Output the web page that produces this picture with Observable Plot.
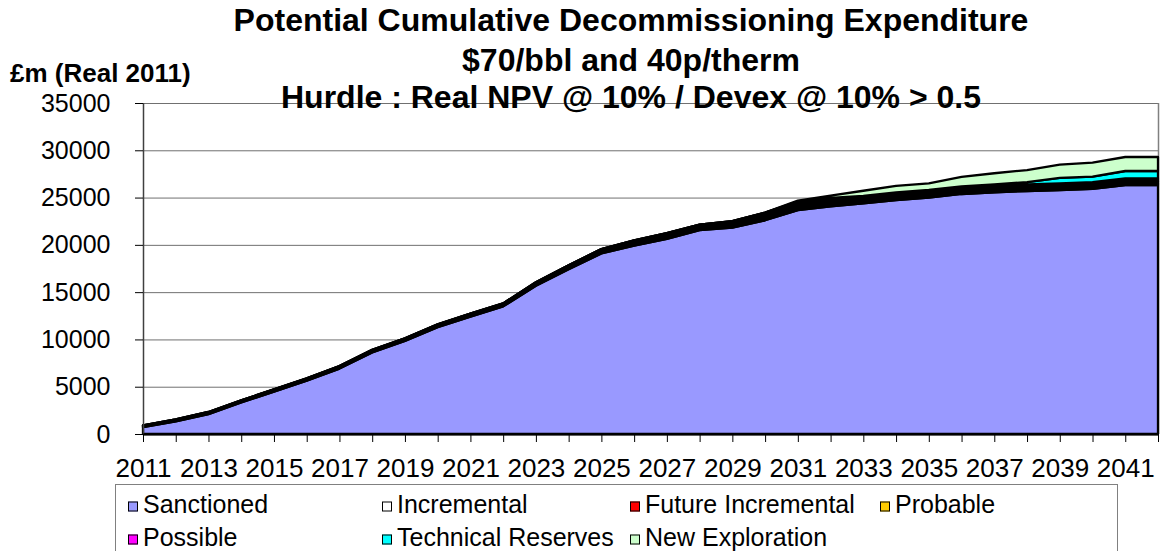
<!DOCTYPE html>
<html>
<head>
<meta charset="utf-8">
<script src="https://cdn.jsdelivr.net/npm/d3@7"></script>
<script src="https://cdn.jsdelivr.net/npm/@observablehq/plot@0.6"></script>
<style>
  html, body { margin: 0; padding: 0; background: #fff; }
  #wrap { position: relative; width: 1163px; height: 551px; overflow: hidden; font-family: "Liberation Sans", Arial, sans-serif; color: #000; }
  #chart { position: absolute; left: 0; top: 0; }
  .t { position: absolute; white-space: nowrap; font-weight: bold; line-height: 1; }
  .title { font-size: 32px; transform: translate(-50%, -50%); left: 631px; }
  #unit { font-size: 26px; left: 10px; top: 73px; transform: translateY(-50%); }
  #legend { position: absolute; left: 115px; top: 484px; width: 1003px; height: 100px; border: 1px solid #808080; box-sizing: border-box; }
  .li { position: absolute; font-size: 25px; line-height: 1; white-space: nowrap; transform: translateY(-50%); }
  .sw { display: inline-block; width: 8px; height: 8px; border: 1.5px solid #000; margin-right: 5px; vertical-align: 1px; }
</style>
</head>
<body>
<div id="wrap">
  <div id="chart"></div>
  <div class="t title" style="top:20px">Potential Cumulative Decommissioning Expenditure</div>
  <div class="t title" style="top:60px">$70/bbl and 40p/therm</div>
  <div class="t title" style="top:97px">Hurdle : Real NPV @ 10% / Devex @ 10% &gt; 0.5</div>
  <div class="t" id="unit">£m (Real 2011)</div>
  <div id="legend"></div>
</div>
<script>
const years = [2011,2012,2013,2014,2015,2016,2017,2018,2019,2020,2021,2022,2023,2024,2025,2026,2027,2028,2029,2030,2031,2032,2033,2034,2035,2036,2037,2038,2039,2040,2041,2042];
const xLabelYears = [2011,2013,2015,2017,2019,2021,2023,2025,2027,2029,2031,2033,2035,2037,2039,2041];
const yTicks = [0,5000,10000,15000,20000,25000,30000,35000];

const seriesNames = ["Sanctioned","Incremental","Future Incremental","Probable","Possible","Technical Reserves","New Exploration"];
const seriesColors = ["#9999FF","#FFFFFF","#FF0000","#FFCC00","#FF00FF","#00FFFF","#CCFFCC"];

const sanctioned = [720,1340,2110,3330,4490,5640,6920,8630,9840,11300,12420,13500,15670,17430,19100,19910,20620,21550,21820,22600,23670,24080,24390,24740,24990,25380,25560,25690,25800,25910,26330,26330];
const incremental = [50,53,55,58,60,63,65,68,70,73,75,78,95,105,113,140,155,150,175,200,225,220,200,200,205,195,185,175,173,178,178,178];
const futureIncremental = [50,52,55,57,60,62,65,67,70,72,75,77,95,105,112,140,155,150,175,200,225,220,200,200,205,195,185,175,172,177,177,177];
const probable = [50,52,55,57,60,62,65,67,70,72,75,77,95,105,112,140,155,150,175,200,225,220,200,200,205,195,185,175,172,177,177,177];
const possible = [50,53,55,58,60,63,65,68,70,73,75,78,95,105,113,140,155,150,175,200,225,220,200,200,205,195,185,175,173,178,178,178];
const technicalReserves = [0,0,0,0,0,0,0,0,0,0,0,0,0,0,0,0,0,0,0,0,0,0,0,0,0,30,80,250,600,600,770,770];
const newExploration = [0,0,0,0,0,0,0,0,0,0,0,0,0,0,0,0,0,0,0,0,100,250,530,700,700,990,1190,1270,1400,1480,1480,1480];

const seriesValues = [sanctioned, incremental, futureIncremental, probable, possible, technicalReserves, newExploration];
const data = [];
seriesNames.forEach((name, i) => {
  years.forEach((yr, j) => data.push({year: yr, series: name, value: seriesValues[i][j]}));
});

const font = '"Liberation Sans", Arial, sans-serif';

const chart = Plot.plot({
  width: 1163,
  height: 551,
  marginLeft: 143,
  marginRight: 5,
  marginTop: 103,
  marginBottom: 117,
  style: {fontFamily: font, fontSize: "25px", color: "#000", background: "transparent", overflow: "visible"},
  x: {domain: [2011, 2042], label: null},
  y: {domain: [0, 35000], label: null},
  color: {domain: seriesNames, range: seriesColors},
  marks: [
    Plot.ruleY(yTicks.filter(d => d > 0), {stroke: "#707070", strokeWidth: 1}),
    Plot.ruleX([2042], {stroke: "#808080", strokeWidth: 1.5}),
    Plot.areaY(data, Plot.stackY({x: "year", y: "value", z: "series", fill: "series", order: seriesNames, stroke: "#000", strokeWidth: 2.3})),
    Plot.ruleX([2011], {stroke: "#404040", strokeWidth: 1.5}),
    Plot.ruleY([0], {stroke: "#000", strokeWidth: 2}),
    Plot.axisY({ticks: yTicks, tickSize: 8, tickPadding: 25, tickFormat: d => String(d), fontSize: 25, label: null}),
    Plot.axisX({ticks: years, tickSize: 8, tickFormat: () => "", label: null}),
    Plot.axisX({ticks: xLabelYears, tickSize: 0, tickPadding: 24, tickFormat: d => String(d), fontSize: 26, label: null})
  ]
});
document.getElementById("chart").appendChild(chart);

const legendItems = [
  {name: "Sanctioned", x: 12, y: 19},
  {name: "Incremental", x: 266, y: 19},
  {name: "Future Incremental", x: 514, y: 19},
  {name: "Probable", x: 764, y: 19},
  {name: "Possible", x: 12, y: 52},
  {name: "Technical Reserves", x: 266, y: 52},
  {name: "New Exploration", x: 514, y: 52}
];
const legend = document.getElementById("legend");
legendItems.forEach(it => {
  const color = seriesColors[seriesNames.indexOf(it.name)];
  const el = document.createElement("div");
  el.className = "li";
  el.style.left = it.x + "px";
  el.style.top = it.y + "px";
  el.innerHTML = `<span class="sw" style="background:${color}"></span>${it.name}`;
  legend.appendChild(el);
});
</script>
</body>
</html>
